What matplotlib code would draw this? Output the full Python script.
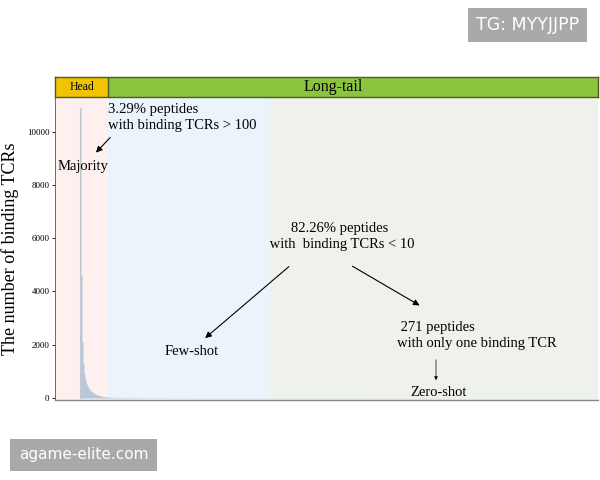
import numpy as np
import matplotlib
matplotlib.use("Agg")
import matplotlib.pyplot as plt

plt.rcParams['font.family'] = ['Liberation Serif', 'DejaVu Serif']

# jumlah TCR per peptida (urut turun), bagian kepala dibaca satu per satu
head_counts = [10900, 4600, 2100, 1300, 900, 700, 560, 470, 400, 340,
               290, 250, 220, 190, 165, 145, 130, 115, 100, 90,
               80, 72, 65, 58, 52, 47, 43, 40, 37, 34,
               31, 29, 27, 25, 23, 21, 20, 19, 18, 17]
# ekor panjang: level dan berapa peptida di level itu
tail_levels = [15, 12, 10, 8, 6, 5, 4, 3, 2, 1]
tail_lengths = [10, 15, 20, 25, 30, 40, 50, 60, 80, 148]

yticks = [0, 2000, 4000, 6000, 8000, 10000]

counts = np.concatenate([head_counts, np.repeat(tail_levels, tail_lengths)])
rank = np.arange(len(counts))

fig = plt.figure(figsize=(6, 4.8), dpi=100)
ax = fig.add_axes([0.0917, 0.1667, 0.905, 0.6313])

# latar belakang tiap daerah
ax.axvspan(-25, 28, color='#fdf0ee', lw=0)
ax.axvspan(28, 190, color='#ebf3fb', lw=0)
ax.axvspan(190, 518, color='#eef1ec', lw=0)

ax.fill_between(rank, counts, step='post', color='#b7c8dc', lw=0)
ax.plot([0, 0], [0, head_counts[0]], color='#c4c8d0', lw=0.8)

ax.set_xlim(-25, 518)
ax.set_ylim(-75, 11300)
ax.set_xticks([])
ax.set_yticks(yticks)
ax.tick_params(axis='y', labelsize=6.5, length=2, width=0.6, pad=2)
for s in ['top', 'right']:
    ax.spines[s].set_visible(False)
ax.spines['left'].set_color('#555555')
ax.spines['left'].set_linewidth(0.6)
ax.spines['bottom'].set_color('#888888')
ax.spines['bottom'].set_linewidth(1.0)
ax.set_ylabel('The number of binding TCRs', fontsize=13, labelpad=6)

fs = 10.5
ls = 1.3
ap = dict(arrowstyle='-|>', color='black', lw=0.8, mutation_scale=9)
ax.text(28, 10526, '3.29% peptides\nwith binding TCRs > 100', fontsize=fs,
        ha='left', va='center', linespacing=ls)
ax.annotate('', xy=(14, 9135), xytext=(32, 9850), arrowprops=ap)
ax.text(-22, 8684, 'Majority', fontsize=fs, ha='left', va='center')

ax.text(260, 6053, '82.26% peptides\n with  binding TCRs < 10', fontsize=fs,
        ha='center', va='center', linespacing=ls)
ax.annotate('', xy=(123, 2180), xytext=(211, 5000), arrowprops=ap)
ax.annotate('', xy=(342, 3420), xytext=(270, 5000), arrowprops=ap)
ax.text(112, 1729, 'Few-shot', fontsize=fs, ha='center', va='center')

ax.text(317, 2330, ' 271 peptides\nwith only one binding TCR', fontsize=fs,
        ha='left', va='center', linespacing=ls)
ax.annotate('', xy=(356, 564), xytext=(356, 1541),
            arrowprops=dict(arrowstyle='-|>', color='black', lw=0.5, mutation_scale=5))
ax.text(358, 188, 'Zero-shot', fontsize=fs, ha='center', va='center')

# pita judul Head / Long-tail
hx = fig.add_axes([0.0917, 0.7983, 0.905, 0.0417])
hx.set_xlim(-25, 518)
hx.set_ylim(0, 1)
hx.axvspan(-25, 28, color='#f0c400', lw=0)
hx.axvspan(28, 518, color='#8cc43e', lw=0)
hx.axvline(28, color='#4a5a2a', lw=1)
hx.text(1.5, 0.5, 'Head', fontsize=8.5, ha='center', va='center')
hx.text(253, 0.5, 'Long-tail', fontsize=11.5, ha='center', va='center')
hx.set_xticks([])
hx.set_yticks([])
for s in hx.spines.values():
    s.set_color('#4a5a2a')
    s.set_linewidth(1)

# watermark
fig.text(0.8792, 0.9479, 'TG: MYYJJPP', fontsize=12.5, color='white', family='DejaVu Sans',
         ha='center', va='center',
         bbox=dict(boxstyle='square,pad=0.45', fc='#a9a9a9', ec='none'))
fig.text(0.1392, 0.0521, 'agame-elite.com', fontsize=11, color='white', family='DejaVu Sans',
         ha='center', va='center',
         bbox=dict(boxstyle='square,pad=0.55', fc='#a9a9a9', ec='none'))

fig.savefig('out.png', dpi=100)
